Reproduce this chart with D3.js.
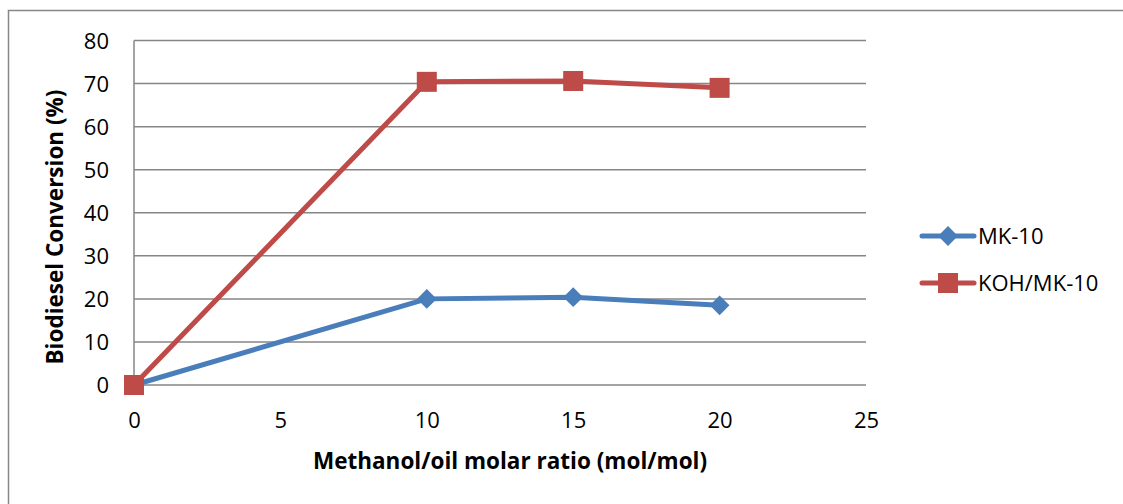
<!DOCTYPE html>
<html><head><meta charset="utf-8">
<script src="https://cdn.jsdelivr.net/npm/d3@7"></script>
<style>body{margin:0;background:#fff}svg{display:block}text{font-family:"Open Sans",Arial,sans-serif}</style>
</head><body><svg id="c" width="1123" height="504"></svg>
<script>
const xValues = [0, 10, 15, 20];
const mk10 = [0, 20.0, 20.4, 18.5];
const kohMk10 = [0, 70.4, 70.6, 69.0];
const seriesNames = ["MK-10", "KOH/MK-10"];
const xTicks = [0, 5, 10, 15, 20, 25];
const yTicks = [0, 10, 20, 30, 40, 50, 60, 70, 80];
const xTitle = "Methanol/oil molar ratio (mol/mol)";
const yTitle = "Biodiesel Conversion (%)";

const FONT = "Open Sans, Arial, sans-serif";
const svg = d3.select("#c");
svg.append("rect").attr("x",8.5).attr("y",10.5).attr("width",1130).attr("height",510)
  .attr("fill","#fff").attr("stroke","#878787").attr("stroke-width",1.5);

const x = d3.scaleLinear().domain([0,25]).range([134,866]);
const y = d3.scaleLinear().domain([0,80]).range([385,40.5]);
const grid = "#868686";

svg.append("g").selectAll("line").data(yTicks).join("line")
  .attr("x1",x(0)).attr("x2",x(25)).attr("y1",d=>y(d)).attr("y2",d=>y(d))
  .attr("stroke",grid).attr("stroke-width",1.5);
svg.append("line").attr("x1",x(0)).attr("x2",x(0)).attr("y1",y(0)).attr("y2",y(80))
  .attr("stroke",grid).attr("stroke-width",1.5);

const yAx = d3.axisLeft(y).tickValues(yTicks).tickSize(0).tickPadding(0);
const gy = svg.append("g").attr("transform","translate(109,0)").call(yAx);
gy.select(".domain").remove();
gy.selectAll("text").attr("font-size",22).attr("fill","#000").attr("font-family",FONT).attr("dy","0.36em");

const xAx = d3.axisBottom(x).tickValues(xTicks).tickSize(0).tickPadding(0);
const gx = svg.append("g").attr("transform","translate(0,420)").call(xAx);
gx.select(".domain").remove();
gx.selectAll("text").attr("font-size",22).attr("fill","#000").attr("font-family",FONT).attr("dy","0.36em");

svg.append("text").attr("x",510).attr("y",461).attr("text-anchor","middle").attr("dy","0.36em")
  .attr("font-size",22.5).attr("font-weight","bold").text(xTitle);
svg.append("text").attr("transform","translate(55,227) rotate(-90)").attr("text-anchor","middle").attr("dy","0.36em")
  .attr("font-size",22.5).attr("font-weight","bold").text(yTitle);

const colors = ["#4a7ebb","#be4b48"];
const series = [mk10, kohMk10];
const line = d3.line().x((d,i)=>x(xValues[i])).y(d=>y(d));
function marker(g, k, cx, cy){
  if(k===0){
    g.append("rect").attr("x",cx-7).attr("y",cy-7).attr("width",14).attr("height",14)
      .attr("transform",`rotate(45,${cx},${cy})`).attr("fill",colors[0]);
  } else {
    g.append("rect").attr("x",cx-10).attr("y",cy-10).attr("width",20).attr("height",20).attr("fill",colors[1]);
  }
}
series.forEach((s,k)=>{
  svg.append("path").attr("d",line(s)).attr("fill","none").attr("stroke",colors[k])
    .attr("stroke-width",5).attr("stroke-linejoin","round").attr("stroke-linecap","round");
});
series.forEach((s,k)=>{
  const g = svg.append("g");
  s.forEach((v,i)=>marker(g,k,x(xValues[i]),y(v)));
});

const legY = [236, 283];
seriesNames.forEach((n,k)=>{
  svg.append("line").attr("x1",922).attr("x2",974).attr("y1",legY[k]).attr("y2",legY[k])
    .attr("stroke",colors[k]).attr("stroke-width",5).attr("stroke-linecap","round");
  marker(svg,k,948,legY[k]);
  svg.append("text").attr("x",978).attr("y",legY[k]).attr("dy","0.36em").attr("font-size",22).text(n);
});
</script></body></html>
